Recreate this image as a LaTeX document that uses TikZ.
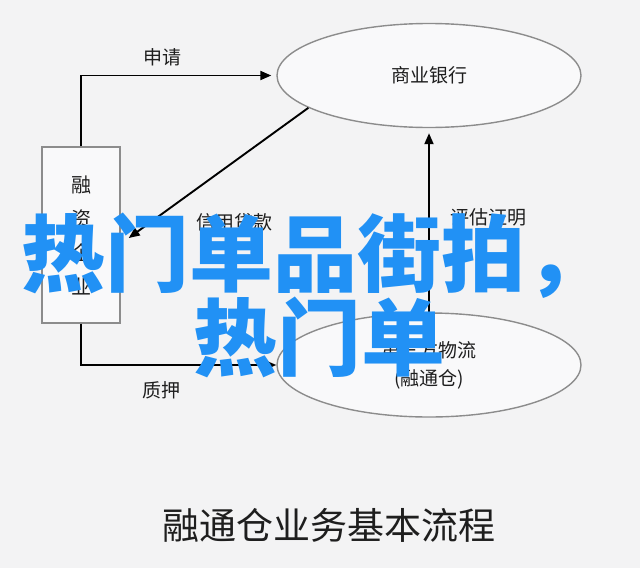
\documentclass[tikz,border=0pt]{standalone}
\usepackage{fontspec}
\newfontfamily\cjk{Noto Sans CJK SC}
\usetikzlibrary{shapes.geometric,arrows.meta}
\definecolor{bg}{RGB}{243,243,244}
\definecolor{edgegray}{RGB}{140,140,140}
\definecolor{ink}{RGB}{30,30,30}
\definecolor{wm}{RGB}{33,145,245}
\begin{document}
\begin{tikzpicture}[x=1pt,y=-1pt,
  lbl/.style={font=\cjk\fontsize{19}{19}\selectfont, text=ink, inner sep=0pt},
  ell/.style={ellipse, draw=edgegray, line width=1.4pt, fill=bg!50!white, minimum width=304pt, minimum height=104pt, inner sep=0pt, font=\cjk\fontsize{19}{28}\selectfont, text=ink, align=center},
  qbox/.style={rectangle, draw=edgegray, line width=1.4pt, fill=bg!50!white, minimum width=78pt, minimum height=176pt, inner sep=0pt, font=\cjk\fontsize{20}{34}\selectfont, text=ink, align=center},
  conn/.style={draw=black, line width=1.9pt, -{Triangle[length=11pt,width=9pt]}},
  wmark/.style={font=\cjk\bfseries\fontsize{84}{84}\selectfont, text=wm, inner sep=0pt, anchor=base west}]
\useasboundingbox (0,0) rectangle (640,568);
\fill[bg] (0,0) rectangle (640,568);

\node[qbox] (qy) at (81,235) {\rule{0pt}{8pt}融\\资\\企\\业};
\node[ell] (bank) at (429,75.5) {商业银行};
\node[ell] (wl) at (429,365) {第三方物流\\(融通仓)};

\draw[conn, shorten >=5pt] (qy.north) |- (bank.west);
\draw[conn] (qy.south) |- (wl.west);
\draw[conn] (bank.195) -- ([xshift=8pt,yshift=-3pt]qy.east);
\draw[conn, shorten >=5pt] (wl.north) -- (bank.south);

\node[lbl] (l1) at (162,57) {申请};
\node[lbl] (l2) at (234,222) {信用贷款};
\node[lbl] (l3) at (488,217) {评估证明};
\node[lbl] (l4) at (161,390) {质押};
\node[font=\cjk\fontsize{37}{37}\selectfont, text=ink, inner sep=0pt] (title) at (329,525) {融通仓业务基本流程};

\node[wmark] (w1) at (21,285) {热门单品街拍，};
\node[wmark] (w2) at (193,369) {热门单};
\end{tikzpicture}
\end{document}
